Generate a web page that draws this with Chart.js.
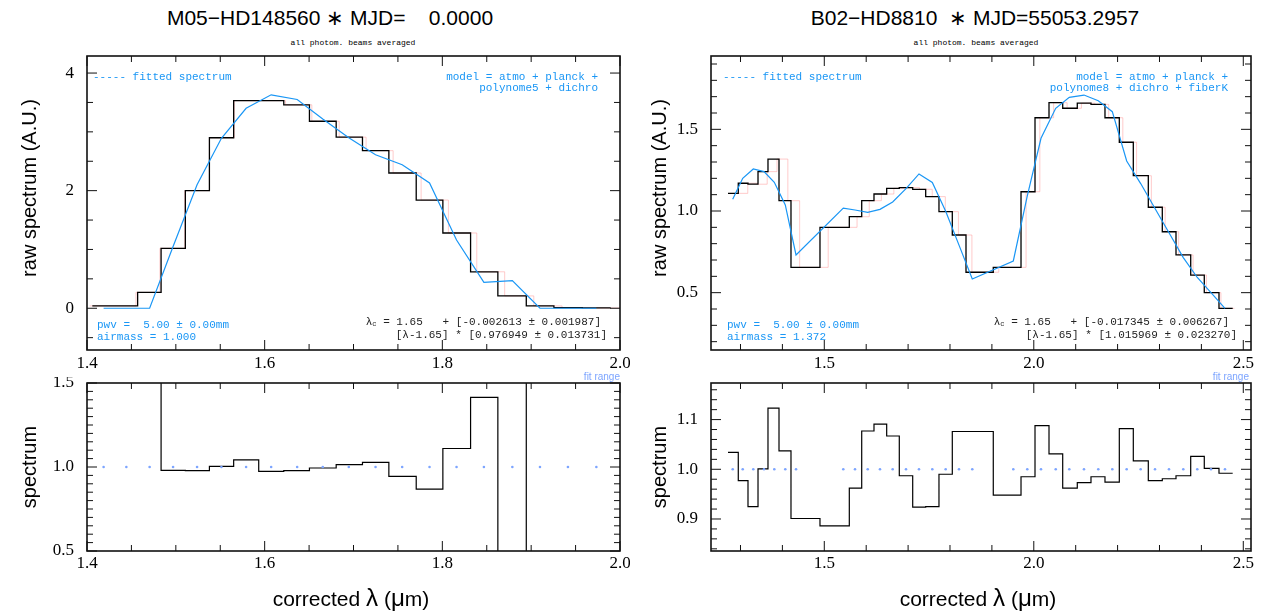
<!DOCTYPE html>
<html>
<head>
<meta charset="utf-8">
<script src="https://cdn.jsdelivr.net/npm/chart.js@4.4.1/dist/chart.umd.min.js"></script>
<style>
  body { margin: 0; background: #fff; width: 1265px; height: 613px; overflow: hidden; position: relative; font-family: "Liberation Sans", Arial, sans-serif; }
  canvas { position: absolute; }
  .t { position: absolute; white-space: pre; line-height: 1; z-index: 5; }
  .c { transform: translate(-50%, -50%); }
  .r { transform: translate(-100%, -50%); }
  .l { transform: translate(0, -50%); }
  .v { transform: translate(-50%, -50%) rotate(-90deg); }
  .big { font-size: 20px; color: #000; }
  .head { font-size: 21px; color: #000; }
  .sym { font-size: 1.15em; }
  .mono { font-family: "Liberation Mono", "Courier New", monospace; font-size: 11px; }
  .blue { color: rgb(25, 150, 245); }
  .ink { color: #222; }
  .tiny { font-family: "Liberation Mono", monospace; font-size: 8px; color: #000; }
  .fit { font-size: 10px; color: rgb(125, 165, 255); }
  sub { font-size: 7px; vertical-align: -1px; }
</style>
</head>
<body>

<canvas id="tl" width="613" height="334" style="left:17px; top:50px;"></canvas>
<canvas id="bl" width="613" height="208" style="left:17px; top:377px;"></canvas>
<canvas id="tr" width="620" height="334" style="left:641px; top:50px;"></canvas>
<canvas id="br" width="620" height="208" style="left:641px; top:377px;"></canvas>

<!-- titles -->
<div class="t c head" style="left:330px; top:17px;">M05−HD148560 ∗ MJD=    0.0000</div>
<div class="t c head" style="left:975px; top:17px;">B02−HD8810  ∗ MJD=55053.2957</div>
<div class="t c tiny" style="left:353px; top:43px;">all photom. beams averaged</div>
<div class="t c tiny" style="left:976px; top:43px;">all photom. beams averaged</div>

<!-- axis titles -->
<div class="t v big" style="left:29px; top:188px;">raw spectrum (A.U.)</div>
<div class="t v big" style="left:659px; top:188px;">raw spectrum (A.U.)</div>
<div class="t v big" style="left:29px; top:467px;">spectrum</div>
<div class="t v big" style="left:659px; top:467px;">spectrum</div>
<div class="t c head" style="left:351px; top:598px;">corrected <span class="sym">λ</span> (<span class="sym">μ</span>m)</div>
<div class="t c head" style="left:978px; top:598px;">corrected <span class="sym">λ</span> (<span class="sym">μ</span>m)</div>

<!-- left panel notes -->
<div class="t l mono blue" style="left:93px; top:77px;">----- fitted spectrum</div>
<div class="t r mono blue" style="left:598px; top:77px;">model = atmo + planck +</div>
<div class="t r mono blue" style="left:598px; top:88px;">polynome5 + dichro</div>
<div class="t l mono blue" style="left:97px; top:325px;">pwv =  5.00 ± 0.00mm</div>
<div class="t l mono blue" style="left:97px; top:337px;">airmass = 1.000</div>
<div class="t r mono ink" style="left:601px; top:322px;">λ<sub>c</sub> = 1.65   + [-0.002613 ± 0.001987]</div>
<div class="t r mono ink" style="left:607px; top:335px;">[λ-1.65] * [0.976949 ± 0.013731]</div>
<div class="t r fit" style="left:620px; top:377px;">fit range</div>

<!-- right panel notes -->
<div class="t l mono blue" style="left:723px; top:77px;">----- fitted spectrum</div>
<div class="t r mono blue" style="left:1228px; top:77px;">model = atmo + planck +</div>
<div class="t r mono blue" style="left:1228px; top:88px;">polynome8 + dichro + fiberK</div>
<div class="t l mono blue" style="left:727px; top:325px;">pwv =  5.00 ± 0.00mm</div>
<div class="t l mono blue" style="left:727px; top:337px;">airmass = 1.372</div>
<div class="t r mono ink" style="left:1229px; top:322px;">λ<sub>c</sub> = 1.65   + [-0.017345 ± 0.006267]</div>
<div class="t r mono ink" style="left:1237px; top:335px;">[λ-1.65] * [1.015969 ± 0.023270]</div>
<div class="t r fit" style="left:1249px; top:377px;">fit range</div>

<script>
// -------------------- DATA : M05-HD148560 (left) --------------------
const leftEdges = [1.4060, 1.4570, 1.4834, 1.5107, 1.5378, 1.5651, 1.5933, 1.6215, 1.6504, 1.6805,
                   1.7101, 1.7398, 1.7706, 1.8006, 1.8318, 1.8625, 1.8945, 1.9256, 1.9576, 1.9895];
const leftSpectrum = [0.04, 0.27, 1.02, 2.00, 2.90, 3.53, 3.53, 3.46, 3.18, 2.91,
                      2.68, 2.30, 1.84, 1.28, 0.62, 0.21, 0.04, 0.01, 0.005];
const leftRatio = [5.0, 3.0, 0.980, 0.978, 1.004, 1.042, 0.974, 0.978, 0.994, 1.014,
                   1.028, 0.944, 0.868, 1.110, 1.414, 0.20, 3.0, 4.0, 6.0];
const leftFitLambda = [1.4187, 1.4443, 1.4705, 1.4969, 1.5239, 1.5513, 1.5791, 1.6073, 1.6366, 1.6654,
                       1.6947, 1.7248, 1.7548, 1.7856, 1.8160, 1.8468, 1.8788, 1.9099, 1.9414, 1.9734];
const leftFit = [0.00, 0.00, 0.00, 1.05, 2.10, 2.89, 3.40, 3.63, 3.55, 3.22,
                 2.90, 2.61, 2.44, 2.13, 1.16, 0.44, 0.47, 0.00, 0.00, 0.00];
const leftCal = { c0: -0.002613, c1: 0.976949 };

// -------------------- DATA : B02-HD8810 (right) --------------------
const rightEdges = [1.2702, 1.2947, 1.3179, 1.3418, 1.3656, 1.3919, 1.4205, 1.4897, 1.5597, 1.5893,
                    1.6186, 1.6489, 1.6790, 1.7110, 1.7420, 1.7737, 1.8055, 1.8382, 1.9033, 1.9695,
                    2.0029, 2.0363, 2.0690, 2.1038, 2.1365, 2.1699, 2.2041, 2.2375, 2.2733, 2.3067,
                    2.3394, 2.3745, 2.4069, 2.4420, 2.4747];
const rightSpectrum = [1.108, 1.170, 1.164, 1.241, 1.318, 1.063, 0.655, 0.900, 0.965, 1.063,
                       1.104, 1.139, 1.143, 1.133, 1.088, 0.996, 0.853, 0.625, 0.655, 1.118,
                       1.571, 1.663, 1.629, 1.660, 1.653, 1.571, 1.421, 1.216, 1.023, 0.873,
                       0.731, 0.608, 0.500, 0.404];
const rightRatio = [1.034, 0.977, 0.925, 1.001, 1.123, 1.037, 0.901, 0.886, 0.962, 1.077,
                    1.091, 1.067, 0.987, 0.924, 0.925, 0.990, 1.076, 1.076, 0.948, 0.985,
                    1.088, 1.031, 0.962, 0.973, 0.985, 0.974, 1.082, 1.017, 0.977, 0.981,
                    0.987, 1.026, 1.002, 0.992];
const rightFitLambda = [1.2814, 1.3053, 1.3305, 1.3561, 1.3807, 1.4069, 1.4325, 1.5453, 1.5733, 1.6036,
                        1.6329, 1.6632, 1.6950, 1.7260, 1.7578, 1.7897, 1.8215, 1.8532, 1.9511, 1.9845,
                        2.0172, 2.0523, 2.0847, 2.1198, 2.1539, 2.1874, 2.2217, 2.2551, 2.2893, 2.3227,
                        2.3568, 2.3902, 2.4229, 2.4563];
const rightFit = [1.072, 1.200, 1.257, 1.241, 1.176, 1.037, 0.731, 1.018, 1.006, 0.992,
                  1.010, 1.055, 1.137, 1.227, 1.175, 0.999, 0.791, 0.584, 0.694, 1.092,
                  1.445, 1.629, 1.696, 1.710, 1.675, 1.608, 1.306, 1.168, 1.015, 0.867,
                  0.715, 0.593, 0.500, 0.404];
const rightCal = { c0: -0.017345, c1: 1.015969 };

const fitLevel = 1.0;   // dotted "fit range" marks in the lower panels

// -------------------- HELPERS --------------------
const BLUE = 'rgb(25,150,245)';
const DOT = 'rgb(125,165,255)';
const PINK = 'rgba(255,140,140,0.45)';

// histogram: one point per bin edge, last value repeated at the closing edge
function stepPoints(edges, values, xf) {
    const f = xf || (v => v);
    const pts = values.map((v, i) => ({ x: f(edges[i]), y: v }));
    pts.push({ x: f(edges[edges.length - 1]), y: values[values.length - 1] });
    return pts;
}
// uncorrected wavelength, from the printed calibration
function rawLambda(cal) {
    return l => 1.65 + (l - 1.65 - cal.c0) / cal.c1;
}
function pairs(xs, ys) {
    return xs.map((x, i) => ({ x: x, y: ys[i] }));
}

// frame + inward minor/major ticks on all four sides
const boxTicks = {
    id: 'boxTicks',
    afterDatasetsDraw(chart, args, opts) {
        const ctx = chart.ctx, a = chart.chartArea;
        const marks = (scale, minor, major) => {
            const out = [];
            const k0 = Math.ceil(scale.min / minor - 1e-6), k1 = Math.floor(scale.max / minor + 1e-6);
            for (let k = k0; k <= k1; k++) {
                const r = k * minor / major;
                out.push({ p: scale.getPixelForValue(k * minor), big: Math.abs(r - Math.round(r)) < 1e-6 });
            }
            return out;
        };
        ctx.save();
        ctx.strokeStyle = '#111';
        ctx.lineWidth = 1;
        ctx.beginPath();
        marks(chart.scales.x, opts.minorX, opts.majorX).forEach(t => {
            const len = t.big ? 10 : 6;
            ctx.moveTo(t.p, a.bottom); ctx.lineTo(t.p, a.bottom - len);
            ctx.moveTo(t.p, a.top); ctx.lineTo(t.p, a.top + len);
        });
        marks(chart.scales.y, opts.minorY, opts.majorY).forEach(t => {
            const len = t.big ? 10 : 6;
            ctx.moveTo(a.left, t.p); ctx.lineTo(a.left + len, t.p);
            ctx.moveTo(a.right, t.p); ctx.lineTo(a.right - len, t.p);
        });
        ctx.stroke();
        ctx.lineWidth = 1.6;
        ctx.strokeRect(a.left, a.top, a.right - a.left, a.bottom - a.top);
        ctx.restore();
    }
};

const AX_W = 70, AX_H = 34, PAD_T = 6, PAD_R = 10;

// fixed axis sizes, no extra room for overhanging labels
function noPad(s) {
    s.paddingTop = 0; s.paddingBottom = 0; s.paddingLeft = 0; s.paddingRight = 0;
}

function panel(id, datasets, xr, yr, ticks, labelPad) {
    const tickFont = { family: '"Liberation Serif", "Times New Roman", serif', size: 17 };
    return new Chart(document.getElementById(id), {
        type: 'line',
        data: { datasets: datasets },
        plugins: [boxTicks],
        options: {
            responsive: false,
            animation: false,
            devicePixelRatio: 1,
            layout: { autoPadding: false, padding: { top: PAD_T, right: PAD_R, left: 0, bottom: 0 } },
            elements: { point: { radius: 0 }, line: { tension: 0 } },
            plugins: { legend: { display: false }, tooltip: { enabled: false }, boxTicks: ticks },
            scales: {
                x: {
                    type: 'linear', min: xr[0], max: xr[1],
                    grid: { display: false, drawTicks: false }, border: { display: false },
                    ticks: { stepSize: ticks.majorX, includeBounds: false, autoSkip: false, maxRotation: 0,
                             padding: labelPad, font: tickFont, color: '#000', callback: v => v.toFixed(1) },
                    afterFit: s => { s.height = AX_H; noPad(s); }
                },
                y: {
                    type: 'linear', min: yr[0], max: yr[1],
                    grid: { display: false, drawTicks: false }, border: { display: false },
                    ticks: { stepSize: ticks.majorY, includeBounds: false, autoSkip: false,
                             padding: 13, font: tickFont, color: '#000',
                             callback: v => ticks.majorY >= 1 ? String(Math.round(v)) : v.toFixed(1) },
                    afterFit: s => { s.width = AX_W; noPad(s); }
                }
            }
        }
    });
}

function spectrumSets(edges, values, fitL, fitV, cal) {
    return [
        { data: pairs(fitL, fitV), borderColor: BLUE, borderWidth: 1.2 },
        { data: stepPoints(edges, values), borderColor: '#000', borderWidth: 1.3, stepped: 'before' },
        { data: stepPoints(edges, values, rawLambda(cal)), borderColor: PINK, borderWidth: 1, stepped: 'before' }
    ];
}
function ratioSets(edges, values, fitL) {
    return [
        { data: fitL.map(l => ({ x: l, y: fitLevel })), showLine: false, pointRadius: 1.3,
          pointBackgroundColor: DOT, pointBorderColor: DOT, pointBorderWidth: 0 },
        { data: stepPoints(edges, values), borderColor: '#000', borderWidth: 1.2, stepped: 'before' }
    ];
}

// -------------------- CHARTS --------------------
panel('tl', spectrumSets(leftEdges, leftSpectrum, leftFitLambda, leftFit, leftCal),
      [1.4, 2.0], [-0.71, 4.29], { minorX: 0.05, majorX: 0.2, minorY: 0.5, majorY: 2 }, 3);
panel('bl', ratioSets(leftEdges, leftRatio, leftFitLambda),
      [1.4, 2.0], [0.5, 1.5], { minorX: 0.05, majorX: 0.2, minorY: 0.05, majorY: 0.5 }, 2);
panel('tr', spectrumSets(rightEdges, rightSpectrum, rightFitLambda, rightFit, rightCal),
      [1.2296, 2.5184], [0.149, 1.949], { minorX: 0.1, majorX: 0.5, minorY: 0.1, majorY: 0.5 }, 3);
panel('br', ratioSets(rightEdges, rightRatio, rightFitLambda),
      [1.2296, 2.5184], [0.8356, 1.1736], { minorX: 0.1, majorX: 0.5, minorY: 0.02, majorY: 0.1 }, 2);
</script>
</body>
</html>
